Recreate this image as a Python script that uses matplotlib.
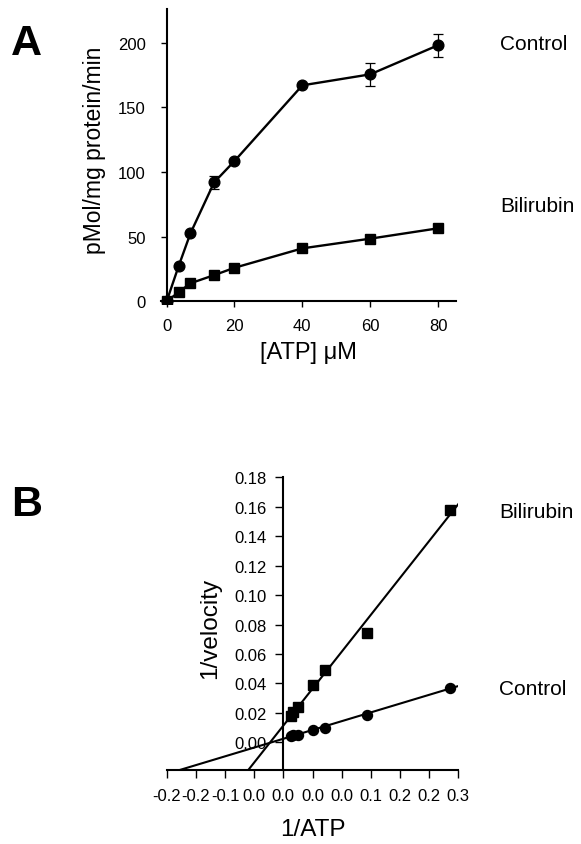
import matplotlib
matplotlib.use('Agg')
import matplotlib.pyplot as plt
import numpy as np

plt.rcParams['font.family'] = ['Liberation Sans', 'DejaVu Sans']

# ---- Panel A data ----
atp_um = [0, 3.5, 7, 14, 20, 40, 60, 80]
control_rate = [0, 27, 52.5, 92, 108.5, 167, 175.5, 198]
control_err = [0, 0, 0, 5, 0, 0, 9, 9]
bilirubin_rate = [0, 7, 14, 20.3, 26, 41, 48.5, 56.5]
xticks_a = [0, 20, 40, 60, 80]
yticks_a = [0, 50, 100, 150, 200]

# ---- Panel B data (Lineweaver-Burk) ----
inv_atp = [0.0125, 0.0167, 0.025, 0.05, 0.0714, 0.1429, 0.2857]
control_inv_v = [0.0045, 0.0050, 0.0052, 0.0086, 0.0100, 0.0186, 0.0371]
bilirubin_inv_v = [0.0177, 0.0204, 0.0240, 0.0390, 0.0490, 0.0743, 0.1580]
xticks_b = [-0.2, -0.15, -0.1, -0.05, 0.0, 0.05, 0.1, 0.15, 0.2, 0.25, 0.3]
xticklabels_b = ['-0.2', '-0.2', '-0.1', '0.0', '0.0', '0.0', '0.0', '0.1', '0.2', '0.2', '0.3']
yticks_b = [0.00, 0.02, 0.04, 0.06, 0.08, 0.10, 0.12, 0.14, 0.16, 0.18]
yticklabels_b = ['0.00', '0.02', '0.04', '0.06', '0.08', '0.10', '0.12', '0.14', '0.16', '0.18']

W, H = 581, 845
fig = plt.figure(figsize=(W / 100, H / 100), dpi=100)

def px_axes(left, top, right, bottom):
    return [left / W, 1 - bottom / H, (right - left) / W, (bottom - top) / H]

# ---------------- Panel A ----------------
axA = fig.add_axes(px_axes(161.2, 10, 456.4, 305))
axA.plot(atp_um, control_rate, color='black', lw=1.7, marker='o', ms=7.7, zorder=3)
axA.errorbar(atp_um, control_rate, yerr=control_err, fmt='none', ecolor='black',
             elinewidth=0.9, capsize=3.5, capthick=0.9, zorder=2)
axA.plot(atp_um, bilirubin_rate, color='black', lw=1.7, marker='s', ms=6.6, zorder=3)
axA.set_xlim(-1.6, 85.4)
axA.set_ylim(-2, 226)
axA.spines['top'].set_visible(False)
axA.spines['right'].set_visible(False)
axA.spines['left'].set_position(('data', 0))
axA.spines['bottom'].set_position(('data', 0))
for s in ('left', 'bottom'):
    axA.spines[s].set_linewidth(1.5)
axA.set_xticks(xticks_a)
axA.set_yticks(yticks_a)
axA.tick_params(axis='both', direction='out', length=4, width=1, labelsize=12)
axA.tick_params(axis='y', pad=11)
axA.tick_params(axis='x', pad=8)
for lab in axA.get_xticklabels() + axA.get_yticklabels():
    lab.set_clip_on(False)

fig.text(95 / W, 1 - 150 / H, 'pMol/mg protein/min', rotation=90, ha='center', va='center', fontsize=16.5)
fig.text(308 / W, 1 - 353 / H, '[ATP] \u03bcM', ha='center', va='center', fontsize=17)
fig.text(500 / W, 1 - 45 / H, 'Control', ha='left', va='center', fontsize=15)
fig.text(500 / W, 1 - 207 / H, 'Bilirubin', ha='left', va='center', fontsize=15)
fig.text(11 / W, 1 - 55 / H, 'A', ha='left', va='baseline', fontsize=31, fontweight='bold')

# ---------------- Panel B ----------------
axB = fig.add_axes(px_axes(166.7, 478.3, 458.3, 770.7))
axB.set_xlim(-0.2, 0.3)
axB.set_ylim(-0.0186, 0.18)
xs = np.array(axB.get_xlim())
for yv in (control_inv_v, bilirubin_inv_v):
    slope, icpt = np.polyfit(inv_atp, yv, 1)
    axB.plot(xs, slope * xs + icpt, color='black', lw=1.5, zorder=2)
axB.plot(inv_atp, control_inv_v, 'o', color='black', ms=7.2, zorder=3, clip_on=False)
axB.plot(inv_atp, bilirubin_inv_v, 's', color='black', ms=6.7, zorder=3, clip_on=False)
axB.spines['top'].set_visible(False)
axB.spines['right'].set_visible(False)
axB.spines['left'].set_position(('data', 0))
for s in ('left', 'bottom'):
    axB.spines[s].set_linewidth(1.5)
axB.set_xticks(xticks_b)
axB.set_xticklabels(xticklabels_b)
axB.set_yticks(yticks_b)
axB.set_yticklabels(yticklabels_b)
axB.tick_params(axis='both', direction='out', length=6, width=1, labelsize=12)
axB.tick_params(axis='y', pad=6)
axB.tick_params(axis='x', pad=7)

fig.text(210 / W, 1 - 628 / H, '1/velocity', rotation=90, ha='center', va='center', fontsize=17.5)
fig.text(313 / W, 1 - 830 / H, '1/ATP', ha='center', va='center', fontsize=17.5)
fig.text(499 / W, 1 - 512 / H, 'Bilirubin', ha='left', va='center', fontsize=15)
fig.text(499 / W, 1 - 690 / H, 'Control', ha='left', va='center', fontsize=15)
fig.text(11 / W, 1 - 516 / H, 'B', ha='left', va='baseline', fontsize=31, fontweight='bold')

fig.savefig('out.png', dpi=100)
